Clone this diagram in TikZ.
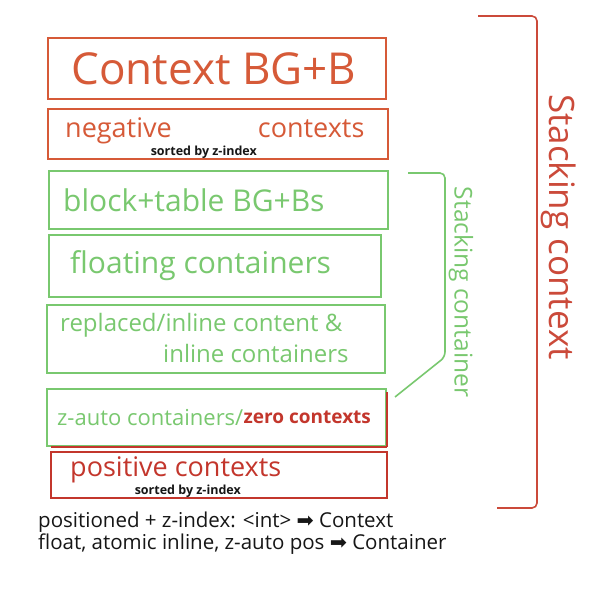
\documentclass[tikz,border=0pt]{standalone}
\usepackage{fontspec}
\setmainfont{Open Sans}
\newfontfamily\symfont{DejaVu Sans}
\usetikzlibrary{positioning}
\definecolor{ink}{HTML}{161616}
\definecolor{ember}{HTML}{D65A38}
\definecolor{leaf}{HTML}{79C86F}
\definecolor{brick}{HTML}{C3362C}
\definecolor{rust}{HTML}{CB4A3A}
\tikzset{
  every node/.style={inner sep=0pt,text=ink},
  layer/.style={draw=#1,line width=1.6pt,anchor=north west},
  hand/.style={font=\fontsize{#1}{#1}\selectfont},
  sortnote/.style={font=\bfseries\fontsize{12.5}{14}\selectfont},
  legend/.style={font=\fontsize{20.5}{22}\selectfont,anchor=west},
  brace/.style={line width=1.6pt,rounded corners=5pt},
  redrule/.style={fill=brick,draw=none},
}
\newcommand{\fatarrow}{{\symfont\char"27A1}}

\begin{document}
\begin{tikzpicture}[x=1pt,y=-1pt]
\path[use as bounding box,fill=white] (0,0) rectangle (600,594);
% context-level layers (top)
\node[layer=ember,minimum width=338pt,minimum height=61pt] (ctxbg) at (47,37) {};
\node[hand=44,text=ember,xshift=-3pt] (ctxbgtxt) at (ctxbg) {Context BG+B};
\node[layer=ember,minimum width=340pt,minimum height=50pt] (neg) at (47,108) {};
\node[hand=27,text=ember,right=18pt of neg.west,yshift=3pt] (negl) {negative};
\node[hand=27,text=ember,left=24pt of neg.east,yshift=5pt] (negr) {contexts};
\node[sortnote,above=1pt of neg.south,xshift=-14pt] (negsort) {sorted by z-index};
% container-level layers
\node[layer=leaf,minimum width=339pt,minimum height=58pt] (blk) at (48,170) {};
\node[hand=30,text=leaf,right=15pt of blk.west] (blktxt) {block+table BG+Bs};
\node[layer=leaf,minimum width=332pt,minimum height=62pt] (flt) at (48,234) {};
\node[hand=30,text=leaf,right=22pt of flt.west] (flttxt) {floating containers};
\node[layer=leaf,minimum width=338pt,minimum height=68pt] (inl) at (46,304) {};
\node[hand=24,text=leaf,anchor=west] (inltop) at ([xshift=14pt,yshift=-21pt]inl.north west) {replaced/inline content \&};
\node[hand=24,text=leaf,anchor=west] (inlbot) at ([xshift=117pt,yshift=-49pt]inl.north west) {inline containers};
% half container, half context
\node[layer=leaf,minimum width=339pt,minimum height=57pt] (zed) at (46,388) {};
\node[redrule,minimum width=1.8pt,minimum height=55pt,anchor=south] (zedright) at ([yshift=-0.9pt]zed.south east) {};
\node[redrule,minimum width=336pt,minimum height=1.8pt,anchor=east] (zedbottom) at ([xshift=0.9pt]zed.south east) {};
\node[hand=22,text=leaf,right=11pt of zed.west] (zedl) {z-auto containers/};
\node[text=brick,font=\bfseries\fontsize{19}{19}\selectfont,right=0pt of zedl] (zedr) {zero contexts};
\node[layer=brick,minimum width=336pt,minimum height=46pt] (pos) at (50,451) {};
\node[hand=27,text=brick,right=20pt of pos.west,yshift=5pt] (postxt) {positive contexts};
\node[sortnote,above=1pt of pos.south,xshift=-31pt] (possort) {sorted by z-index};
% legend
\node[legend] (rulectx) at (38,522) {positioned + z-index: <int> \fatarrow\ Context};
\node[legend] (rulectr) at (38,544) {float, atomic inline, z-auto pos \fatarrow\ Container};
% brackets
\draw[brace,draw=rust] (478,16) -- (537,16) -- (537,508) -- (497,508);
\node[hand=35,text=rust,rotate=-90] (ctxlabel) at (559,227) {Stacking context};
\draw[brace,draw=leaf] (408,173) -- (445,173) -- (445,357) -- (395,397);
\node[hand=24.5,text=leaf,rotate=-90] (ctrlabel) at (461,292) {Stacking container};
\end{tikzpicture}
\end{document}
